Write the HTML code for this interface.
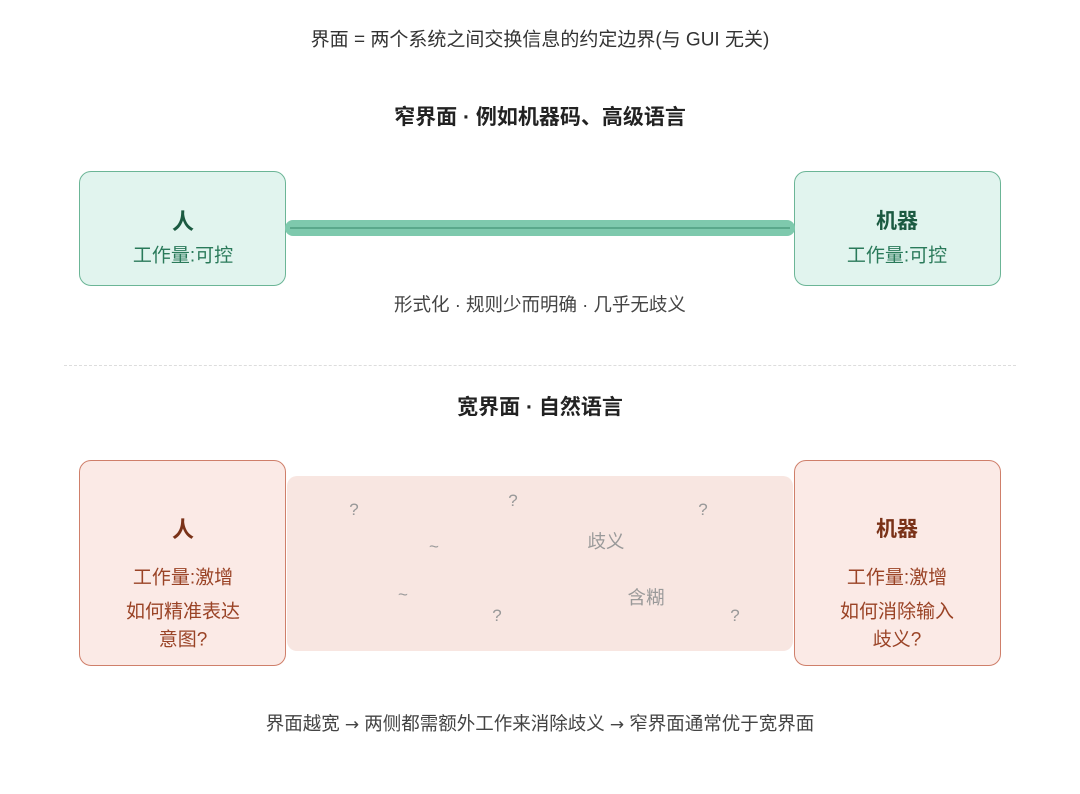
<!DOCTYPE html>
<html><head><meta charset="utf-8"><style>
body{margin:0;width:1080px;height:794px;background:#fff;position:relative;font-family:"Liberation Sans","Noto Sans CJK SC",sans-serif;overflow:hidden}
.t{position:absolute;white-space:nowrap;transform:translate(-50%,-50%)}
.box{position:absolute;box-sizing:border-box;border-radius:12px}
.g{background:#e1f4ee;border:1.5px solid #6bb596}
.r{background:#fbeae6;border:1.5px solid #cf7f6a}
</style></head><body>
<div class="t" style="left:540px;top:38px;font-size:19px;color:#333">界面 = 两个系统之间交换信息的约定边界(与 GUI 无关)</div>
<div class="t" style="left:540px;top:116px;font-size:21px;font-weight:bold;color:#222">窄界面 · 例如机器码、高级语言</div>
<div class="box g" style="left:79px;top:171px;width:207px;height:115px"></div>
<div class="box g" style="left:794px;top:171px;width:207px;height:115px"></div>
<div style="position:absolute;left:285px;top:220px;width:510px;height:16px;border-radius:8px;background:#7ec9ad"></div>
<div style="position:absolute;left:290px;top:227px;width:500px;height:2px;background:#5aa88b"></div>
<div class="t" style="left:183px;top:220px;font-size:22px;font-weight:bold;color:#1b5a41">人</div>
<div class="t" style="left:183px;top:254px;font-size:19px;color:#2a7a5a">工作量:可控</div>
<div class="t" style="left:897px;top:220px;font-size:21px;font-weight:bold;color:#1b5a41">机器</div>
<div class="t" style="left:897px;top:254px;font-size:19px;color:#2a7a5a">工作量:可控</div>
<div class="t" style="left:540px;top:304px;font-size:18.5px;color:#444">形式化 · 规则少而明确 · 几乎无歧义</div>
<div style="position:absolute;left:64px;top:365px;width:952px;border-top:1.5px dashed #ddd"></div>
<div class="t" style="left:540px;top:406px;font-size:21px;font-weight:bold;color:#222">宽界面 · 自然语言</div>
<div style="position:absolute;left:287px;top:476px;width:506px;height:175px;border-radius:10px;background:#f8e6e1"></div>
<div class="box r" style="left:79px;top:460px;width:207px;height:206px"></div>
<div class="box r" style="left:794px;top:460px;width:207px;height:206px"></div>
<div class="t" style="left:183px;top:528px;font-size:22px;font-weight:bold;color:#7a3218">人</div>
<div class="t" style="left:183px;top:576px;font-size:19px;color:#9a4326">工作量:激增</div>
<div class="t" style="left:183px;top:610px;font-size:19px;color:#9a4326">如何精准表达</div>
<div class="t" style="left:183px;top:638px;font-size:19px;color:#9a4326">意图?</div>
<div class="t" style="left:897px;top:528px;font-size:21px;font-weight:bold;color:#7a3218">机器</div>
<div class="t" style="left:897px;top:576px;font-size:19px;color:#9a4326">工作量:激增</div>
<div class="t" style="left:897px;top:610px;font-size:19px;color:#9a4326">如何消除输入</div>
<div class="t" style="left:897px;top:638px;font-size:19px;color:#9a4326">歧义?</div>
<div style="color:#999;font-size:17px">
<div class="t" style="left:354px;top:510px">?</div>
<div class="t" style="left:513px;top:501px">?</div>
<div class="t" style="left:703px;top:510px">?</div>
<div class="t" style="left:434px;top:547px">~</div>
<div class="t" style="left:403px;top:595px">~</div>
<div class="t" style="left:497px;top:616px">?</div>
<div class="t" style="left:735px;top:616px">?</div>
<div class="t" style="left:606px;top:541px;font-size:18.5px">歧义</div>
<div class="t" style="left:646px;top:597px;font-size:18.5px">含糊</div>
</div>
<div class="t" style="left:540px;top:723px;font-size:18.5px;color:#444">界面越宽 <span style="font-family:'DejaVu Sans',sans-serif;font-size:17px">→</span> 两侧都需额外工作来消除歧义 <span style="font-family:'DejaVu Sans',sans-serif;font-size:17px">→</span> 窄界面通常优于宽界面</div>
</body></html>
